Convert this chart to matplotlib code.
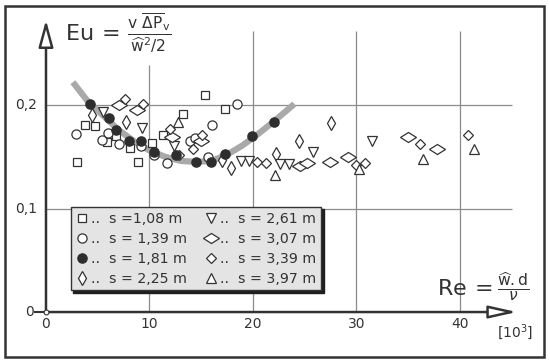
import matplotlib
matplotlib.use('Agg')
import matplotlib.pyplot as plt
from matplotlib.markers import MarkerStyle
from matplotlib.transforms import Affine2D
from matplotlib.patches import Rectangle

plt.rcParams['font.family'] = ['DejaVu Sans']
plt.rcParams['mathtext.fontset'] = 'dejavusans'

# Messwerte Eu ueber Re [10^3]
sq_x = [3.0, 3.8, 4.7, 5.9, 6.8, 8.1, 8.9, 10.2, 11.3, 13.2, 15.4, 17.3]
sq_y = [0.145, 0.181, 0.180, 0.164, 0.170, 0.158, 0.145, 0.163, 0.171, 0.191, 0.210, 0.196]

circ_x = [2.9, 5.4, 6.0, 7.1, 9.2, 10.4, 11.7, 13.9, 14.4, 15.7, 16.0, 18.5]
circ_y = [0.172, 0.166, 0.173, 0.162, 0.160, 0.152, 0.144, 0.165, 0.168, 0.150, 0.181, 0.201]

filled_x = [4.3, 6.1, 6.8, 8.0, 9.2, 10.4, 12.6, 14.5, 15.9, 17.3, 19.9, 22.0]
filled_y = [0.201, 0.187, 0.176, 0.165, 0.165, 0.155, 0.152, 0.145, 0.145, 0.153, 0.170, 0.184]

nar_x = [4.4, 7.7, 17.0, 17.9, 22.2, 24.4, 27.5]
nar_y = [0.190, 0.184, 0.147, 0.139, 0.153, 0.165, 0.183]

dn_x = [5.5, 9.3, 12.4, 18.8, 19.6, 22.6, 23.5, 25.8, 31.5]
dn_y = [0.193, 0.178, 0.160, 0.146, 0.146, 0.143, 0.143, 0.155, 0.165]

wd_x = [7.1, 8.8, 12.2, 15.0, 24.5, 25.2, 27.4, 29.2, 35.0, 37.8]
wd_y = [0.200, 0.195, 0.169, 0.165, 0.141, 0.144, 0.145, 0.150, 0.169, 0.157]

dia_x = [7.6, 9.4, 12.0, 12.9, 14.2, 15.1, 20.4, 21.3, 30.0, 30.8, 36.1, 40.8]
dia_y = [0.206, 0.201, 0.177, 0.152, 0.157, 0.171, 0.145, 0.144, 0.142, 0.144, 0.162, 0.171]

tri_x = [12.8, 22.1, 30.2, 36.4, 41.4]
tri_y = [0.184, 0.132, 0.138, 0.148, 0.157]

# Ausgleichskurve (grau)
fit_x = [2.6, 4.0, 5.5, 7.0, 8.5, 10.0, 11.5, 13.0, 14.5, 16.0, 17.5, 19.0, 20.5, 22.0, 24.0]
fit_y = [0.222, 0.204, 0.190, 0.176, 0.165, 0.156, 0.150, 0.146, 0.145, 0.146, 0.152, 0.161, 0.172, 0.184, 0.201]

s_labels = ['1,08', '1,39', '1,81', '2,25', '2,61', '3,07', '3,39', '3,97']
x_ticks = [0, 10, 20, 30, 40]
y_ticks = [0.1, 0.2]
y_ticklabels = ['0,1', '0,2']

dark = '#333333'
grid = '#8c8c8c'

fig = plt.figure(figsize=(5.5, 3.64), dpi=100)
ax = fig.add_axes([0, 0, 1, 1])
ax.set_xlim(-4.444, 48.70)
ax.set_ylim(-0.0502, 0.3014)
ax.axis('off')

# Rahmen
fig.patches.append(Rectangle((5 / 550, 7 / 364), 539 / 550, 351 / 364, transform=fig.transFigure,
                             fill=False, edgecolor=dark, linewidth=1.8))

# Gitter
for xt in x_ticks[1:]:
    top = 0.239 if xt == 10 else 0.271
    ax.vlines(xt, 0, top, color=grid, linewidth=0.9, zorder=1)
for yt in y_ticks:
    ax.hlines(yt, 0, 45.0, color=grid, linewidth=0.9, zorder=1)

# Achsen mit Pfeilen
ax.annotate('', xy=(0, 0.282), xytext=(0, 0),
            arrowprops=dict(arrowstyle='-|>,head_length=1.65,head_width=0.45', fc='white', ec=dark,
                            lw=1.8, shrinkA=0, shrinkB=0, mutation_scale=10), zorder=3)
ax.annotate('', xy=(45.5, 0), xytext=(0, 0),
            arrowprops=dict(arrowstyle='-|>,head_length=1.7,head_width=0.38', fc='white', ec=dark,
                            lw=1.8, shrinkA=0, shrinkB=0, mutation_scale=10), zorder=3)
ax.plot([-1.1, 0], [0, 0], color=dark, lw=1.5)
ax.plot([0], [0], 'o', ms=3.5, mfc='white', mec=dark, mew=0.8, zorder=4)

for xt in x_ticks:
    ax.text(xt, -0.0115, str(xt), ha='center', va='center', fontsize=10, color=dark)
for yt, lab in zip(y_ticks, y_ticklabels):
    ax.text(-0.85, yt, lab, ha='right', va='center', fontsize=10, color=dark)
ax.text(-1.2, 0, '0', ha='right', va='center', fontsize=10, color=dark)
ax.text(45.3, -0.0195, '[10$^3$]', ha='center', va='center', fontsize=10, color=dark)

ax.text(1.8, 0.2695, r'$\mathrm{Eu}\,=\,\frac{\mathrm{v}\ \overline{\Delta\mathrm{P}}_{\mathrm{v}}}{\widehat{\mathrm{w}}^{2}/2}$',
        ha='left', va='center', fontsize=16, color=dark)
ax.text(37.8, 0.025, r'$\mathrm{Re}\,=\frac{\widehat{\mathrm{w}}.\mathrm{d}}{\nu}$',
        ha='left', va='center', fontsize=16, color=dark)

# Ausgleichskurve
ax.plot(fit_x, fit_y, color='#a9a9a9', lw=4.5, solid_capstyle='butt', zorder=2)

wide = MarkerStyle('d', transform=Affine2D().rotate_deg(90))
kw = dict(ls='none', mec=dark, mew=0.9, mfc='white', zorder=5)
ax.plot(sq_x, sq_y, marker='s', ms=5.4, label='..  s =1,08 m', **kw)
ax.plot(circ_x, circ_y, marker='o', ms=6.6, label='..  s = ' + s_labels[1] + ' m', **kw)
ax.plot(filled_x, filled_y, ls='none', marker='o', ms=6.6, mfc='#2e2e2e', mec='#2e2e2e', zorder=6,
        label='..  s = ' + s_labels[2] + ' m')
ax.plot(nar_x, nar_y, marker='d', ms=7.5, label='..  s = ' + s_labels[3] + ' m', **kw)
ax.plot(dn_x, dn_y, marker='v', ms=6.5, label='..  s = ' + s_labels[4] + ' m', **kw)
ax.plot(wd_x, wd_y, marker=wide, ms=8, label='..  s = ' + s_labels[5] + ' m', **kw)
ax.plot(dia_x, dia_y, marker='D', ms=5.4, label='..  s = ' + s_labels[6] + ' m', **kw)
ax.plot(tri_x, tri_y, marker='^', ms=7, label='..  s = ' + s_labels[7] + ' m', **kw)

leg = ax.legend(ncol=2, loc='upper left', bbox_to_anchor=(70.7 / 550, 1 - 206.7 / 364),
                bbox_transform=fig.transFigure, borderaxespad=0, fontsize=10.2, numpoints=1,
                handlelength=0.9, handletextpad=0.15, columnspacing=1.3, labelspacing=0.42,
                borderpad=0.35, fancybox=False, framealpha=1, facecolor='#e4e4e4', edgecolor=dark,
                shadow={'facecolor': '#1e1e1e', 'edgecolor': '#1e1e1e', 'alpha': 1})
leg.get_frame().set_linewidth(1.0)
for t in leg.get_texts():
    t.set_color(dark)
leg.set_zorder(10)

fig.savefig('out.png', dpi=100)
